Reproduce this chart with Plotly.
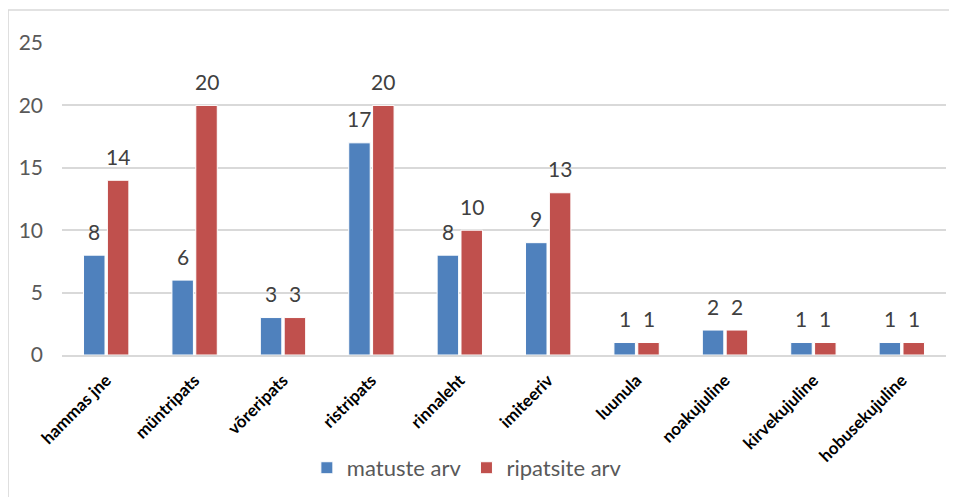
import plotly.graph_objects as go

categories = ["hammas jne", "müntripats", "võreripats", "ristripats", "rinnaleht",
              "imiteeriv", "luunula", "noakujuline", "kirvekujuline", "hobusekujuline"]
matuste = [8, 6, 3, 17, 8, 9, 1, 2, 1, 1]
ripatsite = [14, 20, 3, 20, 10, 13, 1, 2, 1, 1]
series_names = ["matuste arv", "ripatsite arv"]
colors = ["#4F81BD", "#C0504D"]

FONT = "Lato"

fig = go.Figure()
for name, vals, col in zip(series_names, [matuste, ripatsite], colors):
    fig.add_trace(go.Bar(
        x=categories, y=vals, name=name,
        marker=dict(color=col, line=dict(color="white", width=1)),
    ))

# data labels
for vals, xs in zip([matuste, ripatsite], [-12, 12]):
    for c, v in zip(categories, vals):
        fig.add_annotation(x=c, y=v, text=str(v), showarrow=False, xref="x", yref="y",
                           xshift=xs, yshift=24, yanchor="middle",
                           font=dict(size=21, color="#404040", family=FONT))

fig.update_layout(
    width=949, height=489,
    margin=dict(l=54, r=11, t=35, b=142, autoexpand=False),
    paper_bgcolor="white", plot_bgcolor="white",
    font=dict(family=FONT, color="#595959"),
    barmode="group", bargap=0.46, bargroupgap=0.1,
    showlegend=True,
    legend=dict(orientation="h", x=0.458, xanchor="center", y=-0.362, yanchor="middle",
                font=dict(size=22, color="#595959"), itemwidth=30),
    xaxis=dict(tickangle=-45, tickfont=dict(size=17, color="black", family=FONT, weight="bold"),
               showline=True, linecolor="#D9D9D9", linewidth=1.5, ticks="", automargin=False),
    yaxis=dict(range=[0, 25], dtick=5, showgrid=True, gridcolor="#D9D9D9", gridwidth=1.5,
               tickfont=dict(size=21, color="#595959"), zeroline=False, ticks="",
               ticklabelstandoff=18, automargin=False),
    shapes=[dict(type="rect", xref="paper", yref="paper",
                 x0=-0.061, x1=1.03, y0=-0.6, y1=1.106,
                 line=dict(color="#D9D9D9", width=1.5), fillcolor="rgba(0,0,0,0)", layer="below")],
)
fig.update_xaxes(ticklabelstandoff=7)
fig.write_html("out.html")
